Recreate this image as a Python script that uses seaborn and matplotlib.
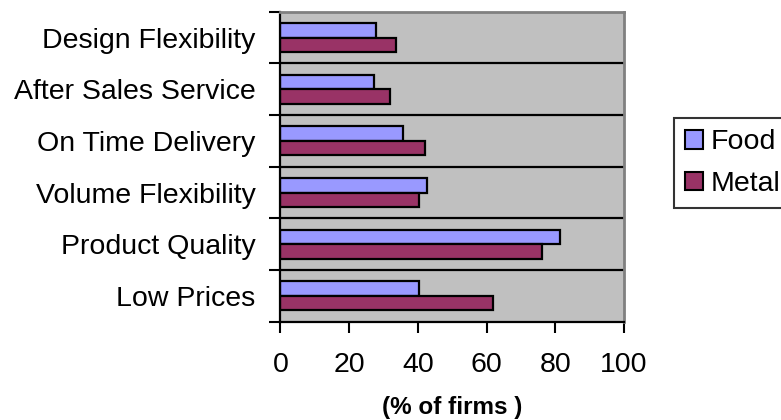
import matplotlib
matplotlib.use("Agg")
import matplotlib.pyplot as plt
import seaborn as sns
import pandas as pd
from matplotlib.patches import Patch
from matplotlib.ticker import FixedLocator

# Competitive priorities reported by firms in two sectors
categories = ["Design Flexibility", "After Sales Service", "On Time Delivery",
              "Volume Flexibility", "Product Quality", "Low Prices"]
food = [27.8, 27.2, 35.7, 42.8, 81.3, 40.3]
metal = [33.7, 31.9, 42.2, 40.3, 76.1, 61.8]
series = ["Food", "Metal"]
x_ticks = [0, 20, 40, 60, 80, 100]

colors = {"Food": "#9999FF", "Metal": "#993366"}

df = pd.DataFrame({
    "category": categories * 2,
    "sector": ["Food"] * len(categories) + ["Metal"] * len(categories),
    "value": food + metal,
})

sns.set_theme(style="white")
plt.rcParams["font.family"] = ["Liberation Sans", "DejaVu Sans"]
plt.rcParams["text.color"] = "black"
plt.rcParams["axes.labelcolor"] = "black"
plt.rcParams["xtick.color"] = "black"
plt.rcParams["ytick.color"] = "black"

fig = plt.figure(figsize=(7.81, 4.2), dpi=100)
ax = fig.add_axes([0.359, 0.234, 0.440, 0.738])

sns.barplot(data=df, x="value", y="category", hue="sector", order=categories,
            hue_order=series, palette=colors, orient="h", width=0.56,
            edgecolor="black", linewidth=1.6, saturation=1, ax=ax, legend=False)

ax.set_facecolor("#C0C0C0")
ax.set_xlim(0, 100)
ax.set_ylim(len(categories) - 0.5, -0.5)

# category boundaries: gridlines and ticks
bounds = [i - 0.5 for i in range(len(categories) + 1)]
for b in bounds[1:-1]:
    ax.axhline(b, color="black", linewidth=1.6, zorder=0.5)
ax.yaxis.set_minor_locator(FixedLocator(bounds))
ax.tick_params(axis="y", which="minor", length=8, width=1.5, color="black", left=True)
ax.tick_params(axis="y", which="major", length=0, pad=18, labelsize=20.5,
               labelcolor="black")

ax.set_xticks(x_ticks)
ax.tick_params(axis="x", which="major", length=8, width=1.5, color="black",
               bottom=True, pad=14, labelsize=20.5, labelcolor="black")

ax.set_ylabel("")
ax.set_xlabel("(% of firms )", fontsize=17.5, fontweight="bold", labelpad=13,
              color="black")

for side in ["left", "bottom"]:
    ax.spines[side].set_color("black")
    ax.spines[side].set_linewidth(1.6)
for side in ["top", "right"]:
    ax.spines[side].set_color("#808080")
    ax.spines[side].set_linewidth(2)

handles = [Patch(facecolor=colors[s], edgecolor="black", linewidth=1.5, label=s)
           for s in series]
leg = fig.legend(handles=handles, loc="upper left", bbox_to_anchor=(674 / 781, 1 - 118 / 420),
                 frameon=True, fancybox=False, fontsize=20.5, handlelength=0.62,
                 handleheight=0.62, handletextpad=0.25, labelspacing=0.55,
                 borderpad=0.4, borderaxespad=0)
leg.get_frame().set_edgecolor("black")
leg.get_frame().set_linewidth(1.5)
for t in leg.get_texts():
    t.set_color("black")

fig.savefig("out.png", dpi=100)
